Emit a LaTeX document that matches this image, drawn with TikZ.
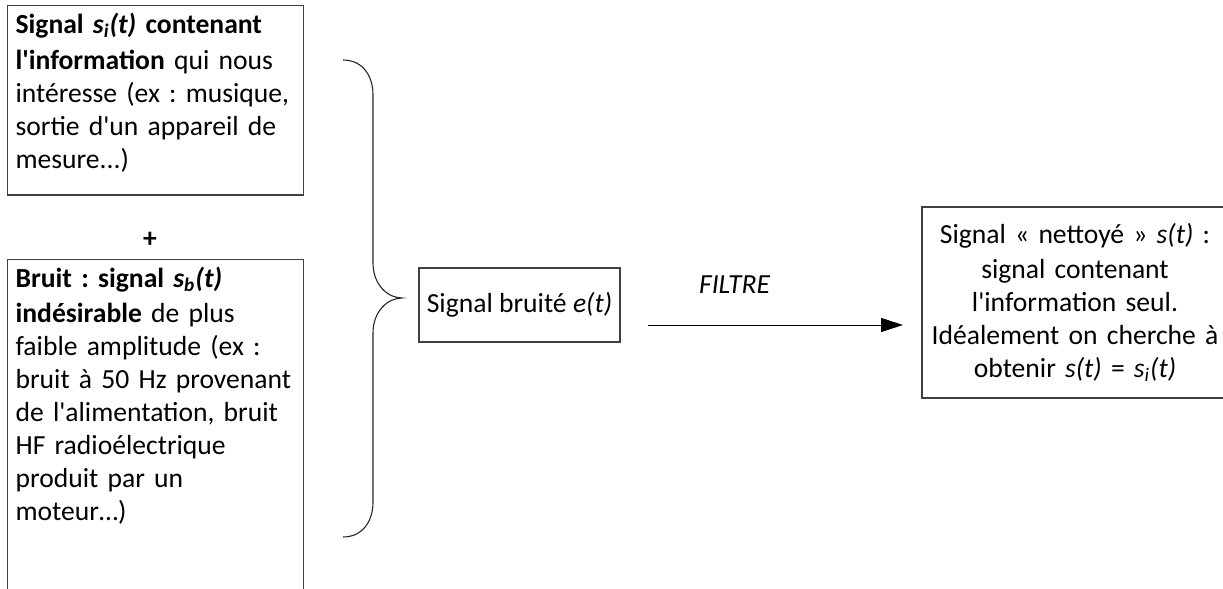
\documentclass[tikz,border=0pt]{standalone}
\usepackage{fontspec}
\setmainfont{Carlito}[Ligatures=TeXOff]
\usetikzlibrary{arrows.meta}
\frenchspacing

\begin{document}
\begin{tikzpicture}[x=0.5pt,y=-0.5pt,
	every node/.style={font=\fontsize{13.8pt}{16.5pt}\selectfont},
	boite/.style={draw=black!75,line width=0.6pt,inner xsep=4pt,inner ysep=3.5pt},
	fleche/.style={-{Triangle[length=11pt,width=7pt]},line width=0.5pt}]
	\useasboundingbox (0,0) rectangle (1223,589);
	\clip (0,0) rectangle (1223,589);
	\node[boite,anchor=north west,text width=140pt,align=left] (utile) at (7,5) {\textbf{Signal \textit{s\textsubscript{i}(t)} contenant}\\[1.5pt]\textbf{l'information} qui nous\\intéresse (ex : musique,\\sortie d'un appareil de\\mesure...)\rule[-10pt]{0pt}{10pt}};
	\node (plus) at (150,240) {\textbf{+}};
	\node[boite,anchor=north west,text width=140pt,align=left] (bruit) at (7,259) {\textbf{Bruit : signal \textit{s\textsubscript{b}(t)}}\\[1pt]\textbf{indésirable} de plus\\faible amplitude (ex :\\bruit à 50 Hz provenant\\de l'alimentation, bruit\\HF radioélectrique\\produit par un\\moteur…)\rule[-45pt]{0pt}{45pt}};
	\draw[black!85,line width=0.55pt] (343,60) .. controls (362,60) and (373,75) .. (373,95) -- (373,263) .. controls (373,285) and (388,298) .. (402,298) .. controls (388,298) and (373,311) .. (373,333) -- (373,502) .. controls (373,522) and (362,537) .. (343,537);
	\node[boite,minimum width=100.5pt,minimum height=37pt,inner xsep=1pt] (bruite) at (519.5,305) {Signal bruité \textit{e(t)}};
	\node[boite,text width=145pt,align=center,minimum height=95.5pt] (propre) at (1075,302.5) {Signal « nettoyé » \textit{s(t)} :\\[1pt]signal contenant\\l'information seul.\\Idéalement on cherche à\\obtenir \textit{s(t)} = \textit{s\textsubscript{i}(t)}};
	\coordinate (depart) at (648,325);
	\coordinate (arrivee) at (903,325);
	\draw[fleche] (depart) -- (arrivee) node[pos=.34,yshift=20pt] (filtre) {\textit{FILTRE}};
\end{tikzpicture}
\end{document}
